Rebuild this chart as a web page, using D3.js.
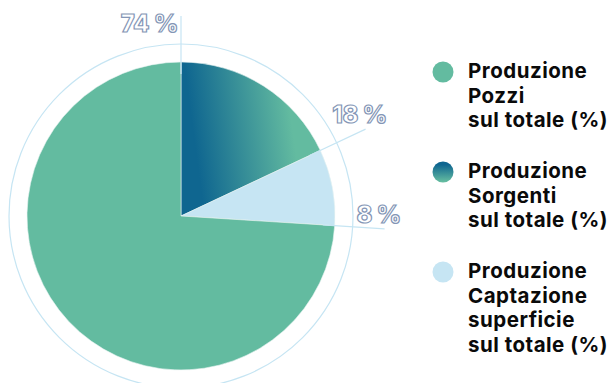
<!DOCTYPE html>
<html>
<head>
<meta charset="utf-8">
<script src="https://cdn.jsdelivr.net/npm/d3@7"></script>
<style>
  body { margin: 0; background: #fff; }
  svg { display: block; }
</style>
</head>
<body>
<svg id="chart" width="614" height="383"></svg>
<script>
// data
var categories = ["Pozzi", "Sorgenti", "Captazione superficie"];
var values = [74, 18, 8];
var pctLabels = ["74 %", "18 %", "8 %"];
var legendLines = [
  ["Produzione", "Pozzi", "sul totale (%)"],
  ["Produzione", "Sorgenti", "sul totale (%)"],
  ["Produzione", "Captazione", "superficie", "sul totale (%)"]
];

var svg = d3.select("#chart");
var cx = 181, cy = 216, r = 154;

var defs = svg.append("defs");
var g1 = defs.append("linearGradient").attr("id", "sliceGrad")
    .attr("x1", 0).attr("y1", 0.55).attr("x2", 1).attr("y2", 0.4);
g1.append("stop").attr("offset", 0.1).attr("stop-color", "#0f6690");
g1.append("stop").attr("offset", 0.8).attr("stop-color", "#63bba0");
var g2 = defs.append("linearGradient").attr("id", "legGrad")
    .attr("x1", 0).attr("y1", 0).attr("x2", 0).attr("y2", 1);
g2.append("stop").attr("offset", 0.15).attr("stop-color", "#0f6690");
g2.append("stop").attr("offset", 0.95).attr("stop-color", "#63bba0");

var fills = ["#63bba0", "url(#sliceGrad)", "#c6e5f3"];
var legFills = ["#63bba0", "url(#legGrad)", "#c6e5f3"];

// slices go clockwise from top: Sorgenti, Captazione, then Pozzi
var order = [1, 2, 0];
var pie = d3.pie().sort(null).value(function(d) { return values[d]; });
var arcs = pie(order);
var arc = d3.arc().innerRadius(0).outerRadius(r);

var g = svg.append("g").attr("transform", "translate(" + cx + "," + cy + ")");

// outer ring
g.append("circle").attr("r", 172)
  .attr("fill", "none").attr("stroke", "#c6e5f3").attr("stroke-width", 1.2);

var lineLen = [200, 204, 204];

g.selectAll("path.slice")
  .data(arcs)
  .enter().append("path")
  .attr("class", "slice")
  .attr("d", arc)
  .attr("fill", function(d) { return fills[d.data]; })
  .attr("stroke", "#e8f4f2").attr("stroke-width", 0.6);

// leader lines along slice end angles
g.selectAll("line.lead")
  .data(arcs)
  .enter().append("line")
  .attr("class", "lead")
  .attr("x1", function(d) { return Math.sin(d.endAngle) * (r - 12); })
  .attr("y1", function(d) { return -Math.cos(d.endAngle) * (r - 12); })
  .attr("x2", function(d) { return Math.sin(d.endAngle) * lineLen[d.data]; })
  .attr("y2", function(d) { return -Math.cos(d.endAngle) * lineLen[d.data]; })
  .attr("stroke", "#c6e5f3").attr("stroke-width", 1.2);

// percentage labels
g.selectAll("text.pct")
  .data(arcs)
  .enter().append("text")
  .attr("class", "pct")
  .text(function(d) { return pctLabels[d.data]; })
  .attr("x", function(d) {
    var x = Math.sin(d.endAngle) * lineLen[d.data];
    return Math.abs(x) < 5 ? x - 3 : x - 6;
  })
  .attr("y", function(d) {
    var y = -Math.cos(d.endAngle) * lineLen[d.data];
    return Math.abs(Math.sin(d.endAngle)) < 0.1 && y < 0 ? y + 16 : y - 6;
  })
  .attr("text-anchor", function(d) { return Math.abs(Math.sin(d.endAngle)) < 0.1 ? "end" : "middle"; })
  .attr("font-family", "Inter, sans-serif")
  .attr("font-weight", 800)
  .attr("font-size", 24)
  .attr("letter-spacing", -0.5)
  .attr("fill", "#fff")
  .attr("stroke", "#8496b6")
  .attr("stroke-width", 1.2);

// legend
var leg = svg.append("g").attr("transform", "translate(443,0)");
var items = leg.selectAll("g.item")
  .data(categories)
  .enter().append("g")
  .attr("transform", function(d, i) { return "translate(0," + (78 + i * 100) + ")"; });

items.append("circle")
  .attr("cx", 0).attr("cy", -6).attr("r", 10.5)
  .attr("fill", function(d, i) { return legFills[i]; });

items.append("text")
  .attr("x", 25)
  .attr("font-family", "Inter, sans-serif")
  .attr("font-weight", 700)
  .attr("font-size", 20.5)
  .attr("letter-spacing", 0.5)
  .attr("fill", "#0a0a0a")
  .selectAll("tspan")
  .data(function(d, i) { return legendLines[i]; })
  .enter().append("tspan")
  .attr("x", 25)
  .attr("dy", function(d, i) { return i === 0 ? 0 : 24.5; })
  .text(function(d) { return d; });
</script>
</body>
</html>
